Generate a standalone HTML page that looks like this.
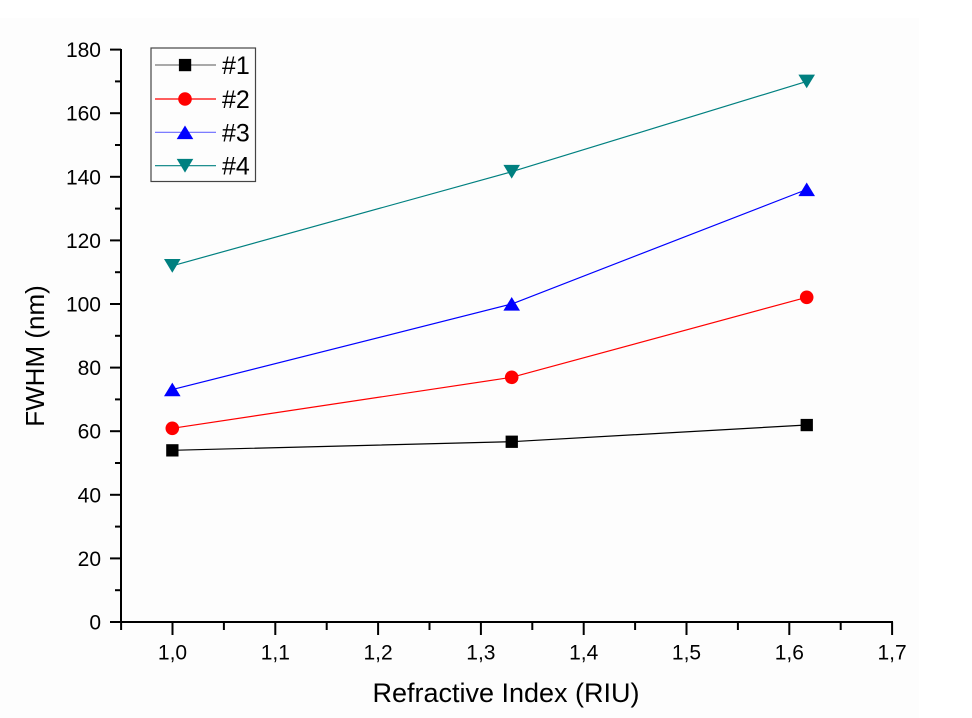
<!DOCTYPE html>
<html>
<head>
<meta charset="utf-8">
<style>
  html,body{margin:0;padding:0;background:#ffffff;}
  svg{display:block;}
  text{font-family:"Liberation Sans", Arial, sans-serif;fill:#000;}
</style>
</head>
<body>
<svg width="972" height="718" viewBox="0 0 972 718" xmlns="http://www.w3.org/2000/svg">
  <rect x="0" y="0" width="972" height="718" fill="#ffffff"/>
  <rect x="0" y="18" width="919" height="700" fill="#fdfdfd"/>

  <!-- Axes -->
  <g stroke="#000" stroke-width="2" fill="none">
    <line x1="121" y1="49" x2="121" y2="623"/>
    <line x1="120" y1="622" x2="893" y2="622"/>
    <!-- y major ticks -->
    <line x1="110" y1="622" x2="121" y2="622"/>
    <line x1="110" y1="558.4" x2="121" y2="558.4"/>
    <line x1="110" y1="494.8" x2="121" y2="494.8"/>
    <line x1="110" y1="431.2" x2="121" y2="431.2"/>
    <line x1="110" y1="367.6" x2="121" y2="367.6"/>
    <line x1="110" y1="304" x2="121" y2="304"/>
    <line x1="110" y1="240.4" x2="121" y2="240.4"/>
    <line x1="110" y1="176.8" x2="121" y2="176.8"/>
    <line x1="110" y1="113.2" x2="121" y2="113.2"/>
    <line x1="110" y1="49.6" x2="121" y2="49.6"/>
    <!-- y minor ticks -->
    <line x1="115" y1="590.2" x2="121" y2="590.2"/>
    <line x1="115" y1="526.6" x2="121" y2="526.6"/>
    <line x1="115" y1="463" x2="121" y2="463"/>
    <line x1="115" y1="399.4" x2="121" y2="399.4"/>
    <line x1="115" y1="335.8" x2="121" y2="335.8"/>
    <line x1="115" y1="272.2" x2="121" y2="272.2"/>
    <line x1="115" y1="208.6" x2="121" y2="208.6"/>
    <line x1="115" y1="145" x2="121" y2="145"/>
    <line x1="115" y1="81.4" x2="121" y2="81.4"/>
    <!-- x major ticks -->
    <line x1="172.5" y1="622" x2="172.5" y2="635"/>
    <line x1="275.3" y1="622" x2="275.3" y2="635"/>
    <line x1="378.1" y1="622" x2="378.1" y2="635"/>
    <line x1="480.9" y1="622" x2="480.9" y2="635"/>
    <line x1="583.7" y1="622" x2="583.7" y2="635"/>
    <line x1="686.5" y1="622" x2="686.5" y2="635"/>
    <line x1="789.3" y1="622" x2="789.3" y2="635"/>
    <line x1="892.1" y1="622" x2="892.1" y2="635"/>
    <!-- x minor ticks -->
    <line x1="121.1" y1="622" x2="121.1" y2="630"/>
    <line x1="223.9" y1="622" x2="223.9" y2="630"/>
    <line x1="326.7" y1="622" x2="326.7" y2="630"/>
    <line x1="429.5" y1="622" x2="429.5" y2="630"/>
    <line x1="532.3" y1="622" x2="532.3" y2="630"/>
    <line x1="635.1" y1="622" x2="635.1" y2="630"/>
    <line x1="737.9" y1="622" x2="737.9" y2="630"/>
    <line x1="840.7" y1="622" x2="840.7" y2="630"/>
  </g>

  <!-- Y tick labels -->
  <g font-size="21" text-anchor="end">
    <text x="101" y="629.5">0</text>
    <text x="101" y="565.9">20</text>
    <text x="101" y="502.3">40</text>
    <text x="101" y="438.7">60</text>
    <text x="101" y="375.1">80</text>
    <text x="101" y="311.5">100</text>
    <text x="101" y="247.9">120</text>
    <text x="101" y="184.3">140</text>
    <text x="101" y="120.7">160</text>
    <text x="101" y="57.1">180</text>
  </g>

  <!-- X tick labels -->
  <g font-size="21" text-anchor="middle">
    <text x="172.5" y="659.5">1,0</text>
    <text x="275.3" y="659.5">1,1</text>
    <text x="378.1" y="659.5">1,2</text>
    <text x="480.9" y="659.5">1,3</text>
    <text x="583.7" y="659.5">1,4</text>
    <text x="686.5" y="659.5">1,5</text>
    <text x="789.3" y="659.5">1,6</text>
    <text x="892.1" y="659.5">1,7</text>
  </g>

  <!-- Axis titles -->
  <text x="506" y="702" font-size="27" text-anchor="middle">Refractive Index (RIU)</text>
  <text transform="translate(44,356) rotate(-90)" font-size="26" text-anchor="middle">FWHM (nm)</text>

  <!-- Series lines -->
  <g fill="none" stroke-width="1.2">
    <polyline stroke="#000000" points="172.3,450.3 511.7,441.7 806.7,425"/>
    <polyline stroke="#ff0000" points="172.3,428.3 511.7,377.3 806.7,297.3"/>
    <polyline stroke="#0000ff" points="172.3,389.6 511.7,304 806.7,189.5"/>
    <polyline stroke="#008080" points="172.3,265.8 511.7,171.7 806.7,81.4"/>
  </g>

  <!-- Markers #1 squares -->
  <g fill="#000">
    <rect x="166.2" y="444.2" width="12.3" height="12.3"/>
    <rect x="505.6" y="435.6" width="12.3" height="12.3"/>
    <rect x="800.6" y="418.9" width="12.3" height="12.3"/>
  </g>
  <!-- #2 circles -->
  <g fill="#ff0000">
    <circle cx="172.3" cy="428.3" r="6.8"/>
    <circle cx="511.7" cy="377.3" r="6.8"/>
    <circle cx="806.7" cy="297.3" r="6.8"/>
  </g>
  <!-- #3 up triangles -->
  <g fill="#0000ff">
    <polygon points="172.3,382.6 180.6,396.2 164,396.2"/>
    <polygon points="511.7,297 520,310.6 503.4,310.6"/>
    <polygon points="806.7,182.5 815,196.1 798.4,196.1"/>
  </g>
  <!-- #4 down triangles -->
  <g fill="#008080">
    <polygon points="164,259 180.6,259 172.3,272.7"/>
    <polygon points="503.4,164.9 520,164.9 511.7,178.6"/>
    <polygon points="798.4,74.6 815,74.6 806.7,88.3"/>
  </g>

  <!-- Legend -->
  <rect x="151" y="48" width="104.5" height="133.5" fill="none" stroke="#444" stroke-width="1.2"/>
  <g stroke-width="1.2">
    <line x1="155" y1="65" x2="216" y2="65" stroke="#777"/>
    <line x1="155" y1="99" x2="216" y2="99" stroke="#ff0000"/>
    <line x1="155" y1="132.3" x2="216" y2="132.3" stroke="#6a6aff"/>
    <line x1="155" y1="165.7" x2="216" y2="165.7" stroke="#008080"/>
  </g>
  <rect x="178.9" y="58.9" width="12.3" height="12.3" fill="#000"/>
  <circle cx="185" cy="99" r="6.8" fill="#ff0000"/>
  <polygon points="185,125.5 193.3,139.1 176.7,139.1" fill="#0000ff"/>
  <polygon points="176.7,158.9 193.3,158.9 185,172.6" fill="#008080"/>
  <g font-size="25">
    <text x="222" y="74">#1</text>
    <text x="222" y="108">#2</text>
    <text x="222" y="141.3">#3</text>
    <text x="222" y="174.7">#4</text>
  </g>
</svg>
</body>
</html>
